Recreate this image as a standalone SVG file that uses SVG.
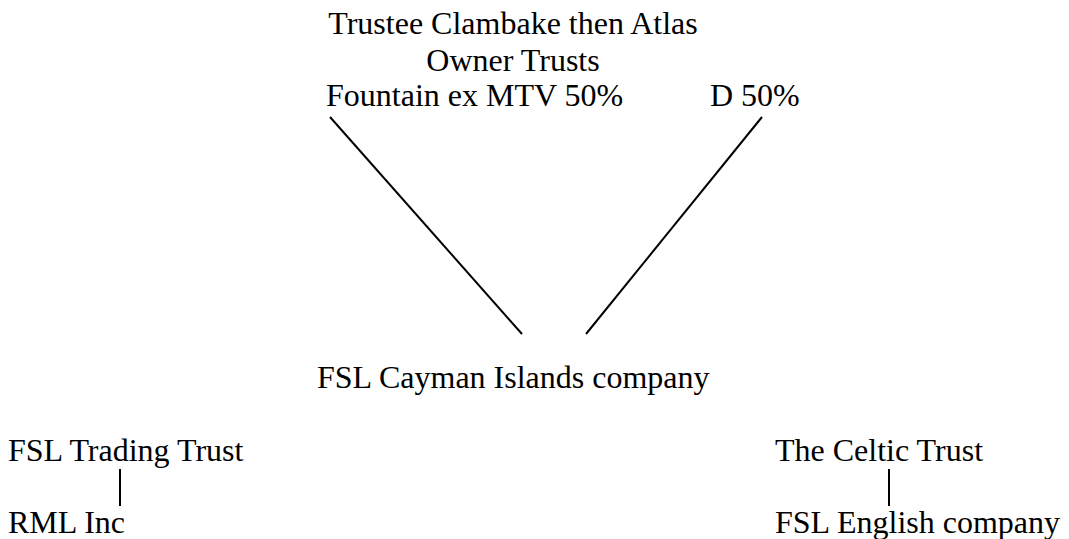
<svg xmlns="http://www.w3.org/2000/svg" width="1069" height="539" viewBox="0 0 1069 539">
<style>
text{font-family:"Liberation Serif","Times New Roman",serif;font-size:32px;fill:#000}
.c{stroke:#000;stroke-width:2;fill:none}
</style>
<rect width="1069" height="539" fill="#fff"/>
<g id="owners">
<text x="513" y="34" text-anchor="middle">Trustee Clambake then Atlas</text>
<text x="513" y="71" text-anchor="middle">Owner Trusts</text>
<text x="326" y="106">Fountain ex MTV 50%</text>
<text x="710" y="106">D 50%</text>
</g>
<g id="cayman"><text x="317" y="388">FSL Cayman Islands company</text></g>
<g id="trading"><text x="8" y="461">FSL Trading Trust</text></g>
<g id="rml"><text x="8" y="533">RML Inc</text></g>
<g id="celtic"><text x="775" y="461">The Celtic Trust</text></g>
<g id="english"><text x="775" y="533">FSL English company</text></g>
<g id="connectors">
<line class="c" x1="330" y1="117" x2="522" y2="334"/>
<line class="c" x1="762" y1="117" x2="586" y2="334"/>
<line class="c" x1="120" y1="469" x2="120" y2="506"/>
<line class="c" x1="889" y1="469" x2="889" y2="506"/>
</g>
</svg>
